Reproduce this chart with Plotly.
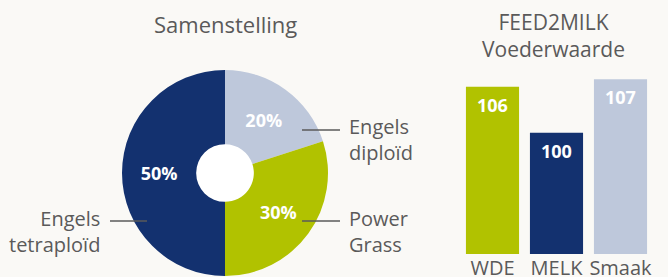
import plotly.graph_objects as go

# Data
pie_labels = ["Engels diploïd", "Power Grass", "Engels tetraploïd"]
pie_values = [20, 30, 50]
pie_colors = ["#bec8db", "#b1c200", "#13316f"]

bar_categories = ["WDE", "MELK", "Smaak"]
bar_values = [106, 100, 107]
bar_colors = ["#b1c200", "#13316f", "#bec8db"]

W, H = 668, 277
BG = "#faf9f6"
GREY = "#5a5a5a"
FONT = "Open Sans"

def px(x):
    return x / W

def py(y):
    return (H - y) / H

fig = go.Figure()

fig.add_trace(go.Pie(
    labels=pie_labels, values=pie_values, sort=False, direction="clockwise",
    rotation=0, hole=0.28,
    marker=dict(colors=pie_colors, line=dict(width=0)),
    texttemplate="%{value}%", textposition="inside",
    insidetextorientation="horizontal",
    textfont=dict(color="white", size=18, family=FONT, weight="bold"),
    domain=dict(x=[px(122), px(328)], y=[py(276), py(70)]),
    showlegend=False, hoverinfo="label+percent",
))

fig.add_trace(go.Bar(
    x=bar_categories, y=bar_values, marker=dict(color=bar_colors, line=dict(width=0)),
    showlegend=False, xaxis="x", yaxis="y",
))

annotations = []
for c, v in zip(bar_categories, bar_values):
    annotations.append(dict(x=c, y=v, xref="x", yref="y", text=str(v), showarrow=False,
                            yanchor="middle", yshift=-18,
                            font=dict(color="white", size=18, family=FONT, weight="bold")))

annotations += [
    dict(x=px(225), y=py(24), xref="paper", yref="paper", text="Samenstelling",
         showarrow=False, xanchor="center", yanchor="middle",
         font=dict(color=GREY, size=22, family=FONT)),
    dict(x=px(553), y=py(36), xref="paper", yref="paper", text="FEED2MILK<br>Voederwaarde",
         showarrow=False, xanchor="center", yanchor="middle",
         font=dict(color=GREY, size=21, family=FONT)),
    dict(x=px(347), y=py(139), xref="paper", yref="paper", text="Engels<br>diploïd",
         showarrow=False, xanchor="left", yanchor="middle", align="left",
         font=dict(color=GREY, size=20, family=FONT)),
    dict(x=px(347), y=py(231), xref="paper", yref="paper", text="Power<br>Grass",
         showarrow=False, xanchor="left", yanchor="middle", align="left",
         font=dict(color=GREY, size=20, family=FONT)),
    dict(x=px(102), y=py(231), xref="paper", yref="paper", text="Engels<br>tetraploïd",
         showarrow=False, xanchor="right", yanchor="middle", align="right",
         font=dict(color=GREY, size=20, family=FONT)),
]

shapes = [
    dict(type="circle", xref="paper", yref="paper", layer="below",
         x0=px(196), x1=px(254), y0=py(202), y1=py(144),
         fillcolor="white", line=dict(width=0)),
    dict(type="line", xref="paper", yref="paper", x0=px(302), x1=px(340), y0=py(130), y1=py(130),
         line=dict(color=GREY, width=1.5)),
    dict(type="line", xref="paper", yref="paper", x0=px(302), x1=px(340), y0=py(221), y1=py(221),
         line=dict(color=GREY, width=1.5)),
    dict(type="line", xref="paper", yref="paper", x0=px(110), x1=px(147), y0=py(221), y1=py(221),
         line=dict(color=GREY, width=1.5)),
]

fig.update_layout(
    width=W, height=H, autosize=False, margin=dict(l=0, r=0, t=0, b=0, autoexpand=False),
    paper_bgcolor=BG, plot_bgcolor=BG,
    bargap=0.17,
    xaxis=dict(domain=[px(460.5), px(652.5)], showgrid=False, zeroline=False, showline=False,
               ticks="", ticklabelstandoff=0, automargin=False,
               tickfont=dict(color=GREY, size=20, family=FONT), fixedrange=True),
    yaxis=dict(domain=[py(254), py(60)], range=[84.2, 109.5], visible=False, fixedrange=True,
               automargin=False),
    annotations=annotations, shapes=shapes,
)

fig.write_html("out.html", config={"displayModeBar": False},
               post_script="document.body.style.margin='0';document.body.style.padding='0';"
                           "document.body.style.background='" + BG + "';")
